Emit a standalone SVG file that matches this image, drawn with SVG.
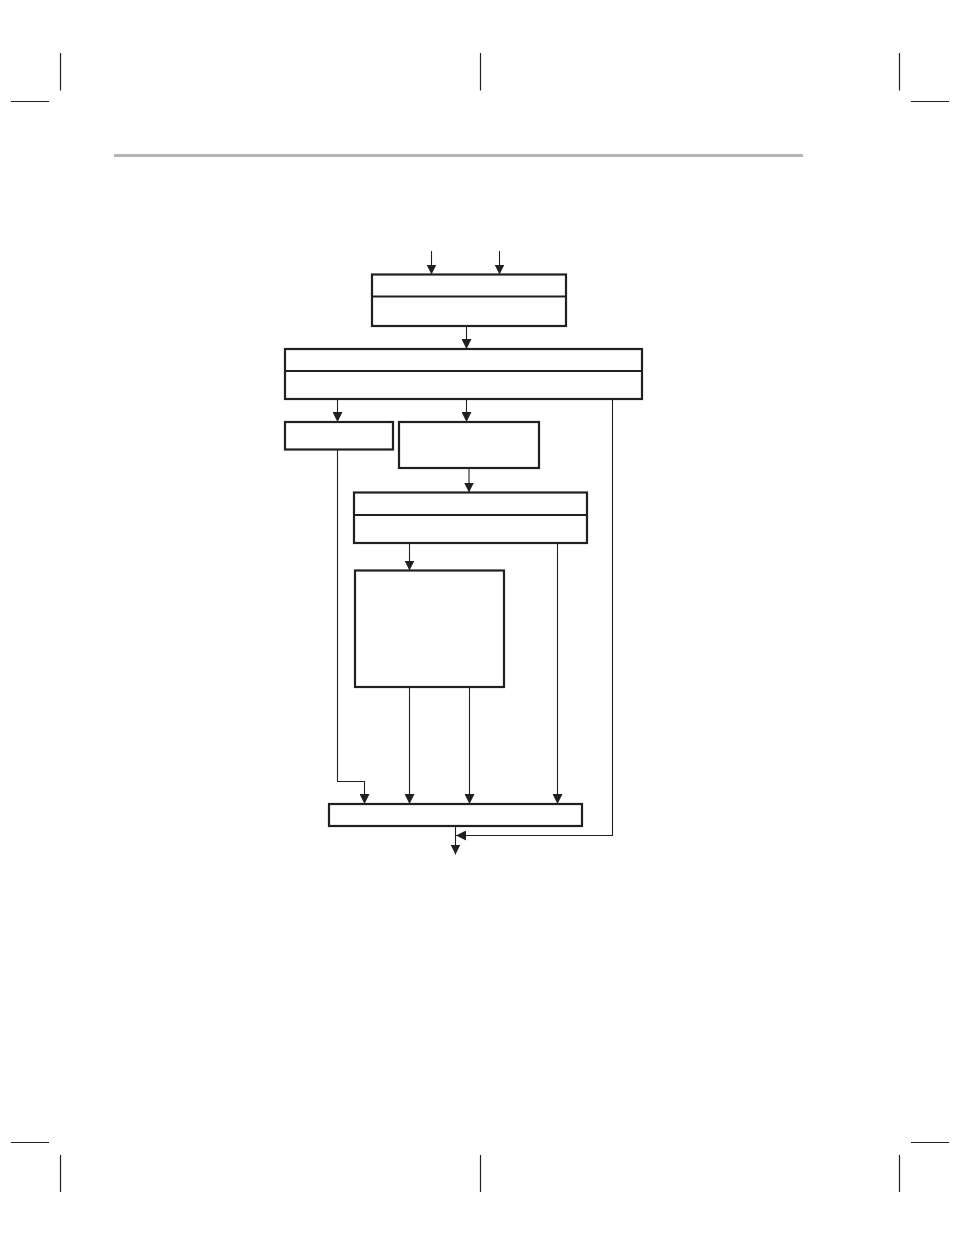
<svg xmlns="http://www.w3.org/2000/svg" width="954" height="1235" viewBox="0 0 954 1235">
<style>
.box{fill:#fff;stroke:#231f20;stroke-width:2.2}
.div{stroke:#231f20;stroke-width:2}
.crop{stroke:#231f20;stroke-width:1.2;fill:none}
.con{stroke:#231f20;stroke-width:1.1;fill:none}
</style>
<defs>
<marker id="ah" viewBox="0 0 10 10" refX="10" refY="5" markerWidth="10" markerHeight="10" markerUnits="userSpaceOnUse" orient="auto">
<path d="M0,0 L10,5 L0,10 Z" fill="#231f20"/>
</marker>
</defs>
<rect width="954" height="1235" fill="#fff"/>
<g id="page">
<line class="crop" x1="60.5" y1="53" x2="60.5" y2="90.5"/>
<line class="crop" x1="11" y1="101.5" x2="49" y2="101.5"/>
<line class="crop" x1="480.5" y1="53" x2="480.5" y2="90.5"/>
<line class="crop" x1="899.5" y1="53" x2="899.5" y2="90.5"/>
<line class="crop" x1="911" y1="101.5" x2="949" y2="101.5"/>
<line class="crop" x1="11" y1="1142.5" x2="49" y2="1142.5"/>
<line class="crop" x1="60.5" y1="1155" x2="60.5" y2="1192"/>
<line class="crop" x1="480.5" y1="1155" x2="480.5" y2="1192"/>
<line class="crop" x1="899.5" y1="1155" x2="899.5" y2="1192"/>
<line class="crop" x1="911" y1="1142.5" x2="949" y2="1142.5"/>
<line x1="114" y1="155.5" x2="803" y2="155.5" stroke="#b5b5b5" stroke-width="3"/>
</g>
<g id="connectors">
<line class="con" x1="431.5" y1="251" x2="431.5" y2="274.5" marker-end="url(#ah)"/>
<line class="con" x1="499.5" y1="251" x2="499.5" y2="274.5" marker-end="url(#ah)"/>
<line class="con" x1="466.5" y1="326" x2="466.5" y2="349" marker-end="url(#ah)"/>
<line class="con" x1="337.5" y1="399" x2="337.5" y2="422" marker-end="url(#ah)"/>
<line class="con" x1="466.5" y1="399" x2="466.5" y2="422" marker-end="url(#ah)"/>
<line class="con" x1="469" y1="468" x2="469" y2="492.5" marker-end="url(#ah)"/>
<line class="con" x1="409.5" y1="543" x2="409.5" y2="570.5" marker-end="url(#ah)"/>
<polyline class="con" points="337.5,450 337.5,781.5 364.5,781.5 364.5,804" marker-end="url(#ah)"/>
<line class="con" x1="409.5" y1="687" x2="409.5" y2="804" marker-end="url(#ah)"/>
<line class="con" x1="469.5" y1="687" x2="469.5" y2="804" marker-end="url(#ah)"/>
<line class="con" x1="557.5" y1="543" x2="557.5" y2="804" marker-end="url(#ah)"/>
<polyline class="con" points="612.5,399 612.5,835.5 456,835.5" marker-end="url(#ah)"/>
<line class="con" x1="455.5" y1="826" x2="455.5" y2="854.5" marker-end="url(#ah)"/>
</g>
<g id="node1">
<rect class="box" x="372" y="274.5" width="194" height="51.5"/>
<line class="div" x1="372" y1="296.5" x2="566" y2="296.5"/>
</g>
<g id="node2">
<rect class="box" x="285" y="349" width="357" height="50"/>
<line class="div" x1="285" y1="371" x2="642" y2="371"/>
</g>
<g id="node3">
<rect class="box" x="285" y="422" width="108" height="27.5"/>
</g>
<g id="node4">
<rect class="box" x="399" y="422" width="140" height="46"/>
</g>
<g id="node5">
<rect class="box" x="354" y="492.5" width="233" height="50.5"/>
<line class="div" x1="354" y1="515" x2="587" y2="515"/>
</g>
<g id="node6">
<rect class="box" x="355" y="570.5" width="149" height="116.5"/>
</g>
<g id="node7">
<rect class="box" x="329" y="804" width="253" height="22"/>
</g>
</svg>
